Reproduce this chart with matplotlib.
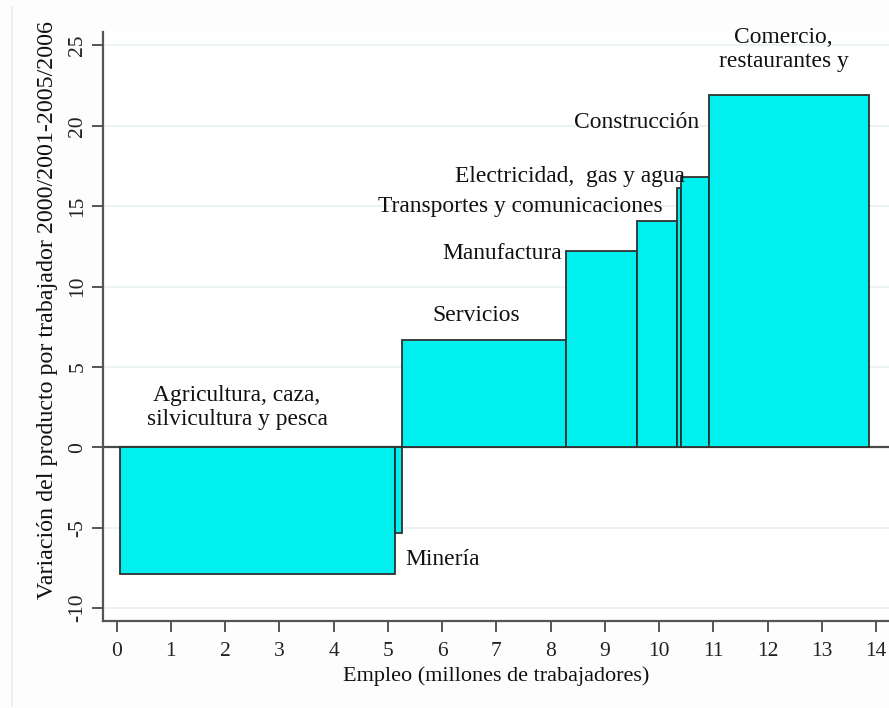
import matplotlib
matplotlib.use("Agg")
import matplotlib.pyplot as plt
from matplotlib.lines import Line2D

# ---- data ----
sectors = [
    "Agricultura, caza,\nsilvicultura y pesca",
    "Minería",
    "Servicios",
    "Manufactura",
    "Transportes y comunicaciones",
    "Electricidad,  gas y agua",
    "Construcción",
    "Comercio,\nrestaurantes y",
]
x_start = 0.06
employment = [5.07, 0.14, 3.01, 1.31, 0.74, 0.07, 0.52, 2.95]   # millions of workers (bar widths)
productivity_change = [-7.9, -5.3, 6.7, 12.2, 14.1, 16.1, 16.8, 21.9]
xticks = list(range(0, 15))
yticks = [-10, -5, 0, 5, 10, 15, 20, 25]

# label placement (x, y, ha)
label_pos = [
    (2.22, 2.5, "center"),
    (5.32, -7.0, "left"),
    (6.62, 8.2, "center"),
    (8.21, 12.06, "right"),
    (10.06, 15.0, "right"),
    (10.47, 16.85, "right"),
    (10.74, 20.22, "right"),
    (12.3, 24.75, "center"),
]

plt.rcParams["font.family"] = ["Liberation Serif", "DejaVu Serif"]

fig = plt.figure(figsize=(8.89, 7.08), dpi=100)
fig.patch.set_facecolor("#fdfdfd")
ax = fig.add_axes([0.1155, 0.1233, 0.8845, 0.8315])
ax.set_facecolor("white")

lefts = []
acc = x_start
for w in employment:
    lefts.append(acc)
    acc += w

ax.bar(lefts, productivity_change, width=employment, align="edge",
       color="#00f0f0", edgecolor="#303030", linewidth=1.3, zorder=3)

ax.axhline(0, color="#4a4a4a", linewidth=1.6, zorder=2)

for name, (tx, ty, ha) in zip(sectors, label_pos):
    ax.text(tx, ty, name, ha=ha, va="center", fontsize=16.9,
            linespacing=1.2, color="#111111", zorder=4)

ax.set_xlim(-0.258, 14.24)
ax.set_ylim(-10.78, 25.83)
ax.set_xticks(xticks)
ax.set_yticks(yticks)
ax.set_xticklabels([str(t) for t in xticks])
ax.set_yticklabels([str(t) for t in yticks])

ax.grid(axis="y", color="#e9f1f3", linewidth=1.2, zorder=0)
ax.set_axisbelow(True)

for s in ["top", "right"]:
    ax.spines[s].set_visible(False)
for s in ["left", "bottom"]:
    ax.spines[s].set_color("#555555")
    ax.spines[s].set_linewidth(1.6)

ax.tick_params(axis="both", direction="out", length=8, width=1.4,
               color="#555555", labelsize=15.5, labelcolor="#222222")
ax.tick_params(axis="x", pad=7)
ax.tick_params(axis="y", labelrotation=90, pad=3)
for lab in ax.get_yticklabels():
    lab.set_verticalalignment("center")

ax.set_xlabel("Empleo (millones de trabajadores)", fontsize=16, labelpad=4,
              color="#111111")
ax.set_ylabel("Variación del producto por trabajador 2000/2001-2005/2006",
              fontsize=17.3, color="#111111")
ax.yaxis.set_label_coords(-0.057, 0.528)

# faint outer frame line on the left
fig.add_artist(Line2D([12 / 889, 12 / 889], [2 / 708, 1 - 7 / 708],
                      transform=fig.transFigure, color="#e6edf3", linewidth=1.2))

fig.savefig("out.png", dpi=100)
